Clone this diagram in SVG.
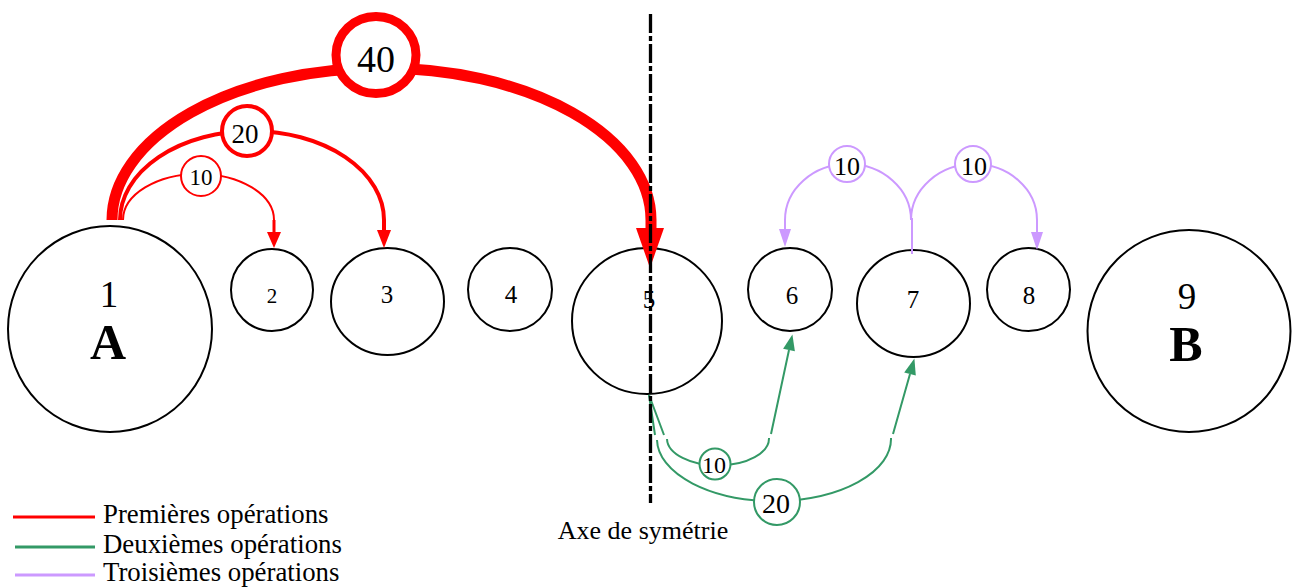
<svg xmlns="http://www.w3.org/2000/svg" width="1292" height="587" viewBox="0 0 1292 587">
<style>
text{font-family:"Liberation Serif","Times New Roman",serif;fill:#000}
.node{fill:#fff;stroke:#000;stroke-width:2}
.red{stroke:#ff0000;fill:none}
.grn{stroke:#339966;fill:none;stroke-width:2}
.pur{stroke:#cc99ff;fill:none;stroke-width:2}
.hr{fill:#ff0000}
.hg{fill:#339966}
.hp{fill:#cc99ff}
.lbl{fill:#fff}
.mid{text-anchor:middle}
</style>
<rect width="1292" height="587" fill="#fff"/>
<g id="node1"><ellipse class="node" cx="110" cy="329" rx="102" ry="103"/><text class="mid" x="109" y="307" font-size="37">1</text><text class="mid" x="108" y="359" font-size="50" font-weight="bold">A</text></g>
<g id="node2"><circle class="node" cx="272" cy="290" r="41"/><text class="mid" x="272" y="303" font-size="21">2</text></g>
<g id="node3"><ellipse class="node" cx="387.5" cy="301.5" rx="56.5" ry="53.5"/><text class="mid" x="387" y="303" font-size="25">3</text></g>
<g id="node4"><ellipse class="node" cx="510" cy="289.5" rx="42" ry="41.5"/><text class="mid" x="511" y="303" font-size="25">4</text></g>
<g id="node5"><ellipse class="node" cx="647" cy="321" rx="75" ry="73"/><text class="mid" x="649" y="308" font-size="25">5</text></g>
<g id="node6"><ellipse class="node" cx="790" cy="289.5" rx="42" ry="41.5"/><text class="mid" x="792" y="304" font-size="25">6</text></g>
<g id="node7"><ellipse class="node" cx="913.5" cy="303.5" rx="56.5" ry="53.5"/><text class="mid" x="913" y="308" font-size="25">7</text></g>
<g id="node8"><ellipse class="node" cx="1028.5" cy="289.5" rx="41.5" ry="41.5"/><text class="mid" x="1029" y="304" font-size="25">8</text></g>
<g id="node9"><ellipse class="node" cx="1189" cy="331" rx="101.5" ry="101"/><text class="mid" x="1187" y="309" font-size="37">9</text><text class="mid" x="1186" y="361" font-size="50" font-weight="bold">B</text></g>
<g id="connectors">
<path class="red" stroke-width="11" d="M112,220 A269.5,152 0 0 1 651,220 L651,230"/>
<polygon class="hr" points="636,228 664,228 650,268"/>
<ellipse class="lbl" cx="376" cy="55" rx="40" ry="38.5" stroke="#ff0000" stroke-width="9"/>
<text class="mid" x="376" y="72" font-size="38">40</text>
<path class="red" stroke-width="4" d="M120,220 A132,89 0 0 1 384,220 L384,231"/>
<polygon class="hr" points="377,230 391,230 384,248"/>
<circle class="lbl" cx="247" cy="131" r="25" stroke="#ff0000" stroke-width="4"/>
<text class="mid" x="245" y="143" font-size="27">20</text>
<path class="red" stroke-width="2" d="M123,220 A75.5,46 0 0 1 274,220"/>
<path class="red" stroke-width="3" d="M274,220 L274,233"/>
<polygon class="hr" points="267,232 281,232 274,248"/>
<circle class="lbl" cx="201" cy="176" r="20" stroke="#ff0000" stroke-width="2"/>
<text class="mid" x="201" y="185" font-size="23">10</text>
<path class="grn" d="M649,395 L664,435 M667,439 A51,27 0 0 0 769,438 M771,434 L789,350"/>
<polygon class="hg" points="794.9,351.3 783.1,348.7 792.4,334.4"/>
<circle class="lbl" cx="715" cy="464" r="15.5" stroke="#339966" stroke-width="2"/>
<text class="mid" x="714" y="473" font-size="24">10</text>
<path class="grn" d="M649,395 L655,435 M657,440 A117,62 0 0 0 891,438 M893,434 L910,374"/>
<polygon class="hg" points="915.8,375.6 904.2,372.4 914.4,358.6"/>
<circle class="lbl" cx="777" cy="502" r="23" stroke="#339966" stroke-width="2"/>
<text class="mid" x="776" y="513" font-size="28">20</text>
<path class="pur" stroke-width="3.5" d="M912,218 L912,254"/>
<path class="pur" d="M785,230 L785,220 A63,56 0 0 1 911,220 A63,56 0 0 1 1037,220 L1037,233"/>
<polygon class="hp" points="779,229 791,229 785,247"/>
<polygon class="hp" points="1031,232 1043,232 1037,250"/>
<circle class="lbl" cx="847" cy="164" r="18" stroke="#cc99ff" stroke-width="2"/>
<text class="mid" x="847" y="175" font-size="26">10</text>
<circle class="lbl" cx="973" cy="164" r="18" stroke="#cc99ff" stroke-width="2"/>
<text class="mid" x="974" y="175" font-size="26">10</text>
</g>
<g id="axis">
<line x1="650.5" y1="14" x2="650.5" y2="503" stroke="#000" stroke-width="3.3" stroke-dasharray="19 3 5 3"/>
<text class="mid" x="643" y="539" font-size="26">Axe de symétrie</text>
</g>
<g id="legend">
<line x1="13" y1="517" x2="95" y2="517" stroke="#ff0000" stroke-width="3"/>
<line x1="15" y1="547" x2="95" y2="547" stroke="#339966" stroke-width="3"/>
<line x1="15" y1="575" x2="95" y2="575" stroke="#cc99ff" stroke-width="3"/>
<text x="103" y="523" font-size="26.8">Premières opérations</text>
<text x="103" y="553" font-size="26.8">Deuxièmes opérations</text>
<text x="103" y="581" font-size="26.8">Troisièmes opérations</text>
</g>
</svg>
